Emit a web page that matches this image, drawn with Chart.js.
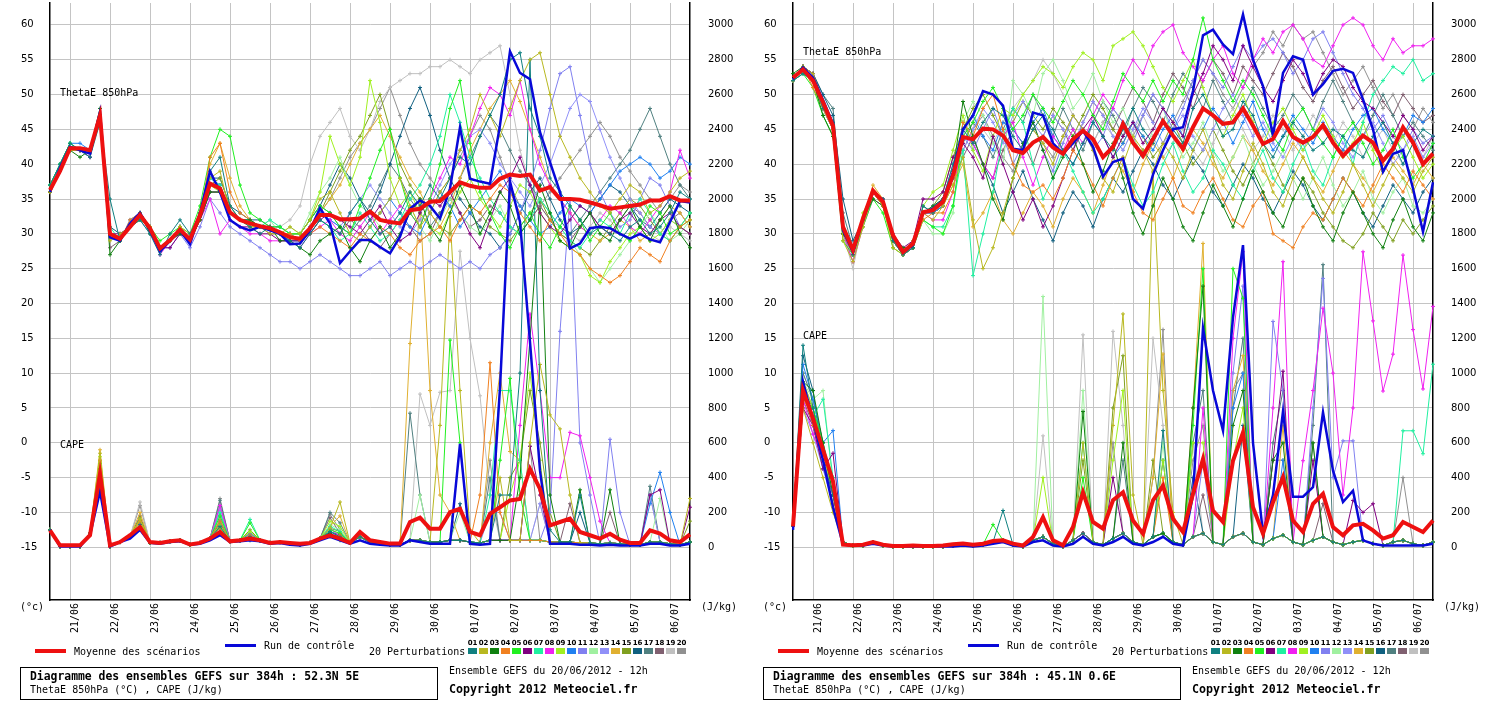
<!DOCTYPE html>
<html>
<head>
<meta charset="utf-8">
<title>Diagramme des ensembles GEFS</title>
<script src="https://cdn.jsdelivr.net/npm/chart.js"></script>
<style>
  body { margin: 0; background: #fff; color: #000; font-family: 'DejaVu Sans Mono', monospace; }
  .panel { position: absolute; top: 0; width: 742px; height: 717px; }
  .panel canvas { position: absolute; left: 0; top: 0; }
  .t { position: absolute; white-space: pre; font-size: 10px; line-height: 10px; }
  .b { font-weight: bold; }
  .bar { position: absolute; }
  .box { position: absolute; left: 20px; top: 667px; width: 416px; height: 31px; border: 1px solid #000; }
  .sq { position: absolute; top: 648px; width: 9px; height: 6px; }
  .num { position: absolute; top: 640px; width: 11px; text-align: center; font-size: 7px; line-height: 7px; font-weight: bold; font-family: 'DejaVu Sans', sans-serif; }
</style>
</head>
<body>
<div class="panel" id="pL" style="left:0"><canvas id="cL" width="742" height="640"></canvas></div>
<div class="panel" id="pR" style="left:743px"><canvas id="cR" width="742" height="640"></canvas></div>
<script>
'use strict'
// forecast steps (hours from 20/06/2012 12h)
const steps = [0,6,12,18,24,30,36,42,48,54,60,66,72,78,84,90,96,102,108,114,120,126,132,138,144,150,156,162,168,174,180,186,192,198,204,210,216,222,228,234,240,246,252,258,264,270,276,282,288,294,300,306,312,318,324,330,336,342,348,354,360,366,372,378,384];
const dayLabels = ['21/06','22/06','23/06','24/06','25/06','26/06','27/06','28/06','29/06','30/06','01/07','02/07','03/07','04/07','05/07','06/07'];
const thetaTicks = [-15,-10,-5,0,5,10,15,20,25,30,35,40,45,50,55,60];
const capeTicks = [0,200,400,600,800,1000,1200,1400,1600,1800,2000,2200,2400,2600,2800,3000];
const memberLabels = ['01','02','03','04','05','06','07','08','09','10','11','12','13','14','15','16','17','18','19','20'];
const memberColors = ['#108080','#b8b820','#108010','#f08020','#20f020','#800080','#20f0a0','#f020f0','#a0f020','#2080f0','#8080f0','#a0f0a0','#9090f8','#e0b030','#80a020','#106080','#508080','#806070','#c0c0c0','#909090'];

// ---- left panel : 52.3N 5E ----
const leftThetaMean = [36.3,39.0,42.3,42.3,42.0,47.0,30.0,29.3,31.0,32.7,30.8,27.9,29.1,30.6,29.2,32.7,37.2,36.5,33.1,32.0,31.5,31.1,30.8,30.2,29.5,29.3,30.8,32.7,32.7,32.1,32.1,32.2,33.2,32.0,31.7,31.5,33.4,33.6,34.6,34.7,36.0,37.4,36.9,36.6,36.6,37.9,38.5,38.3,38.5,36.2,36.7,35.0,35.0,34.9,34.5,34.1,33.6,33.8,34.0,34.2,34.8,34.8,35.4,34.8,34.8];
const leftThetaCtrl = [36,39.5,42.5,42,41.5,47.5,29.5,29,31.5,33,30.5,27.5,29,30.5,28.5,33,39,36,32,31,30.5,31,30.5,30,28.5,28.6,30.5,33.7,31.5,25.8,27.5,29.1,29.1,28.1,27.2,29.6,33.6,34.8,34,32.2,36.5,45.3,37.9,37.5,37.2,45.6,56.2,53.1,52.2,44.6,40.3,36.0,27.9,28.6,30.8,31.0,30.8,30.0,29.3,30.0,29.2,28.8,31.7,34.7,34.5];
const leftThetaMembers = [
  [37,40,43,42,41,46,35,29,31,32,30,27,30,32,30,33,39,41,34,32,31,30,31,30,29,28,30,32,31,30,33,35,32,30,31,33,36,34,37,35,38,41,40,44,47,50,55,56,48,44,38,36,34,32,30,31,30,29,31,32,30,31,33,36,35],
  [36,39,42,42,42,47,29,30,31,33,31,28,29,31,30,33,38,39,33,32,31,31,30,30,31,30,32,35,36,33,30,29,31,33,35,38,34,31,33,36,38,42,45,50,47,44,48,52,55,56,50,44,41,38,36,34,33,35,37,36,33,34,36,38,39],
  [36,39,42,41,42,48,27,29,31,33,30,28,29,30,29,32,36,36,33,32,32,31,31,29,29,28,27,29,30,31,28,26,29,31,28,30,33,35,31,29,33,37,34,30,33,36,34,30,32,37,33,29,28,31,33,30,29,32,34,31,29,32,34,30,28],
  [36,39,42,42,42,47,30,29,32,33,31,28,29,31,29,32,41,43,36,33,32,31,31,30,30,29,30,31,30,29,28,30,29,31,30,28,27,29,30,31,29,32,34,33,35,37,36,33,31,29,32,30,28,27,25,24,23,24,26,28,27,26,29,31,32],
  [37,40,43,42,42,46,30,29,31,32,31,29,30,31,30,34,41,45,44,37,33,32,31,31,30,30,32,34,33,31,30,34,38,42,45,38,33,31,35,40,48,52,43,36,33,30,28,31,33,30,28,31,34,32,29,31,33,30,29,31,34,33,30,31,32],
  [36,39,42,42,41,47,30,30,31,32,31,28,28,30,29,32,36,36,32,31,31,30,30,29,29,29,30,32,33,32,31,30,32,34,31,29,30,33,35,34,36,33,30,28,32,36,38,41,37,33,31,30,32,34,33,31,30,32,33,31,30,32,33,31,30],
  [37,40,43,42,42,47,31,29,31,33,31,28,29,31,29,33,38,37,33,32,32,31,32,31,30,29,30,32,31,29,30,33,31,29,30,32,35,37,40,44,50,46,41,38,35,33,31,30,32,35,33,31,29,28,30,32,31,30,33,35,33,30,29,31,33],
  [36,39,42,42,42,46,30,29,31,33,31,27,29,31,29,32,35,30,32,31,30,30,29,29,29,28,30,31,32,30,29,31,33,30,32,34,33,31,35,38,41,40,44,48,51,50,47,52,45,40,37,35,33,31,30,32,34,33,31,30,32,34,36,42,38],
  [36,39,42,42,42,47,30,29,31,33,31,28,29,31,29,33,37,36,33,32,31,31,31,30,30,30,32,36,44,40,37,41,52,46,38,34,36,33,31,30,33,36,38,35,33,31,34,37,36,33,31,29,28,27,24,23,26,28,30,31,29,30,32,31,30],
  [37,40,43,43,42,47,30,29,32,33,31,28,29,31,29,33,38,37,33,32,32,31,31,30,29,29,31,33,32,31,30,29,31,33,35,33,31,30,33,36,34,31,33,35,37,39,36,34,32,30,31,33,35,34,33,35,37,39,40,41,40,38,39,41,40],
  [36,39,42,42,41,47,30,29,31,32,30,28,28,30,28,31,35,33,31,30,29,28,27,26,26,25,26,27,26,25,24,24,25,26,24,25,26,25,26,27,26,25,26,25,27,28,30,33,37,42,48,53,54,47,40,36,33,31,32,35,38,37,34,31,30],
  [36,39,42,42,42,47,30,29,31,33,31,28,29,31,30,33,36,36,33,32,32,31,32,30,31,30,33,36,38,41,37,34,33,31,30,32,34,31,29,32,35,33,31,30,32,34,31,30,33,35,33,31,29,27,25,23,25,27,29,31,33,31,29,30,32],
  [36,39,42,42,42,47,30,29,31,33,31,28,29,31,29,33,37,37,33,32,32,31,31,30,30,29,31,33,32,31,33,35,37,35,33,31,30,32,34,37,40,42,44,45,43,40,38,36,34,37,40,44,48,50,49,45,41,38,35,33,31,30,32,31,30],
  [36,39,42,42,42,47,30,29,31,33,31,28,29,31,29,33,40,43,38,34,32,31,31,30,30,29,31,33,35,37,40,43,45,47,44,41,38,36,33,31,34,38,42,45,48,50,52,49,45,41,37,35,33,31,30,29,30,32,31,29,30,32,34,33,31],
  [36,39,42,42,42,47,30,29,31,33,31,28,29,31,29,33,37,38,34,32,32,31,31,30,30,29,31,33,36,39,42,44,47,50,45,40,37,35,33,31,30,32,34,33,31,30,29,31,33,35,32,30,29,28,27,29,31,33,35,34,32,30,29,31,33],
  [36,39,42,42,42,47,31,30,31,33,31,28,29,31,29,33,38,38,34,33,32,32,31,31,30,30,32,34,37,40,38,35,33,36,40,44,48,51,47,42,38,35,33,31,30,28,30,33,36,38,35,32,30,31,33,35,37,36,34,32,31,33,35,34,33],
  [36,39,42,42,42,47,30,29,31,33,31,28,29,31,29,33,37,37,33,32,32,31,31,30,30,30,32,34,33,31,30,32,34,37,40,38,35,33,31,33,35,38,41,44,47,45,42,39,37,35,33,31,30,32,34,36,38,40,42,45,48,44,40,37,35],
  [36,39,42,42,42,47,28,29,31,33,31,28,29,31,29,32,36,36,33,32,32,31,30,30,29,29,31,32,31,30,32,31,29,28,30,32,31,29,30,33,35,33,31,32,34,33,31,30,32,34,32,30,29,31,33,31,30,32,34,33,31,30,32,33,31],
  [36,39,42,42,42,47,30,29,31,33,31,28,29,31,29,33,37,37,33,32,32,31,31,31,32,34,40,44,46,48,44,42,45,49,51,52,53,53,54,54,55,54,53,55,56,57,50,42,37,34,32,31,30,29,31,33,32,30,29,31,30,29,31,30,29],
  [36,39,42,42,42,47,30,29,31,33,31,28,29,31,29,33,37,37,33,32,32,31,31,30,30,29,31,33,35,38,41,43,45,48,51,47,43,40,38,36,38,41,44,47,45,41,37,34,32,34,36,38,40,42,44,46,44,41,39,37,35,33,35,37,36]
];
const leftCapeMean = [97,11,11,11,69,421,11,30,69,116,30,25,34,40,16,25,50,88,34,40,50,40,25,30,25,20,25,50,69,50,25,88,40,30,21,21,145,170,107,107,202,221,88,69,192,230,269,278,450,335,126,145,164,88,69,50,78,44,25,25,97,78,40,30,74];
const leftCapeCtrl = [100,5,5,5,70,320,5,30,50,100,25,20,30,35,15,20,40,70,30,35,40,35,20,25,15,10,20,40,60,40,20,40,20,15,10,10,40,30,20,20,20,594,20,15,20,916,2100,1870,1180,440,20,20,20,15,15,10,15,10,10,10,20,20,10,10,20];
const leftCapeMembers = [
  [100,5,5,5,80,400,5,30,60,130,25,25,35,40,15,25,50,120,35,40,60,40,25,30,20,15,25,50,90,60,25,60,30,20,15,15,40,40,30,30,40,40,30,25,40,300,300,1000,2800,900,100,30,30,300,25,20,25,20,15,15,30,30,20,15,30],
  [100,5,5,5,80,540,5,30,60,160,25,25,35,40,15,25,50,110,35,40,50,40,25,30,20,15,25,50,110,260,25,60,30,20,15,15,40,40,30,700,1900,900,100,25,40,400,40,40,600,1050,760,680,300,25,25,20,25,20,15,15,30,30,20,15,280],
  [100,5,5,5,80,450,5,30,60,110,25,25,35,40,15,25,50,90,35,40,40,40,25,30,20,15,25,50,80,40,25,60,30,20,15,15,40,40,30,30,40,40,30,25,40,40,40,400,1200,2000,300,30,30,330,25,20,330,20,15,15,30,30,20,15,30],
  [100,5,5,5,80,500,5,30,60,150,25,25,35,40,15,25,50,150,35,40,70,40,25,30,20,15,25,50,60,70,25,60,30,20,15,15,40,40,30,30,40,40,30,300,1060,200,40,40,40,40,30,30,30,25,25,20,25,20,15,15,30,30,20,15,30],
  [100,5,5,5,80,480,5,30,60,120,25,25,35,40,15,25,50,180,35,40,140,40,25,30,20,15,25,50,100,80,25,60,30,20,15,15,40,40,30,30,1190,600,30,25,40,500,970,300,40,40,30,30,30,25,25,20,25,20,15,15,30,30,20,15,30],
  [100,5,5,5,80,420,5,30,60,100,25,25,35,40,15,25,50,110,35,40,60,40,25,30,20,15,25,50,80,50,25,60,30,20,15,15,40,40,30,30,40,40,30,25,40,40,40,40,580,300,30,30,30,25,25,20,25,20,15,15,300,330,20,15,230],
  [100,5,5,5,80,430,5,30,60,120,25,25,35,40,15,25,50,200,35,40,160,40,25,30,20,15,25,50,120,90,25,60,30,20,15,15,40,40,30,30,40,40,30,25,300,900,900,500,40,40,30,30,30,25,25,20,25,20,15,15,30,30,20,15,30],
  [100,5,5,5,80,470,5,30,60,130,25,25,35,40,15,25,50,240,35,40,60,40,25,30,20,15,25,50,110,60,25,60,30,20,15,15,40,40,30,30,40,40,30,25,40,40,40,700,1340,900,400,400,660,640,400,150,25,20,15,15,30,30,20,15,30],
  [100,5,5,5,80,520,5,30,60,160,25,25,35,40,15,25,50,130,35,40,90,40,25,30,20,15,25,50,150,120,25,60,30,20,15,15,40,40,30,30,40,40,30,25,40,40,300,500,1000,500,30,30,30,25,25,20,25,20,15,15,30,30,20,15,30],
  [100,5,5,5,80,380,5,30,60,100,25,25,35,40,15,25,50,150,35,40,80,40,25,30,20,15,25,50,90,60,25,60,30,20,15,15,40,40,30,30,40,40,30,25,40,40,40,40,40,40,30,30,30,25,25,20,25,20,15,15,250,430,200,15,30],
  [100,5,5,5,80,400,5,30,60,110,25,25,35,40,15,25,50,200,35,40,70,40,25,30,20,15,25,50,80,50,25,60,30,20,15,15,40,40,30,30,40,40,30,25,40,40,40,40,40,40,200,1240,2000,600,300,20,620,200,15,15,30,30,20,15,30],
  [100,5,5,5,80,460,5,30,60,140,25,25,35,40,15,25,50,120,35,40,80,40,25,30,20,15,25,50,130,100,25,60,30,20,15,15,40,300,30,30,40,200,30,25,40,40,40,40,40,40,30,30,30,25,25,20,25,20,15,15,30,280,20,15,30],
  [100,5,5,5,80,440,5,30,60,120,25,25,35,40,15,25,50,220,35,40,70,40,25,30,20,15,25,50,90,60,25,60,30,20,15,15,40,40,30,30,40,40,30,25,200,200,40,40,40,250,30,30,30,25,25,20,25,20,15,15,300,30,20,15,30],
  [100,5,5,5,80,560,5,30,60,200,25,25,35,40,15,25,50,160,35,40,80,40,25,30,20,15,25,50,120,180,25,60,30,20,15,15,1170,1980,900,300,200,40,30,25,600,1000,550,500,40,40,30,30,30,25,25,20,25,20,15,15,30,30,20,15,30],
  [100,5,5,5,80,490,5,30,60,170,25,25,35,40,15,25,50,130,35,40,100,40,25,30,20,15,25,50,110,90,25,60,30,20,15,15,40,40,30,30,40,40,30,25,40,40,400,500,900,600,200,30,30,25,25,20,25,20,15,15,30,30,20,15,150],
  [100,5,5,5,80,360,5,30,60,110,25,25,35,40,15,25,50,140,35,40,60,40,25,30,20,15,25,50,90,70,25,60,30,20,15,15,40,40,30,30,40,250,30,25,40,40,40,40,40,40,30,30,30,200,25,20,25,20,15,15,30,30,20,15,30],
  [100,5,5,5,80,410,5,30,60,140,25,25,35,40,15,25,50,270,35,40,70,40,25,30,20,15,25,50,200,140,25,60,30,20,15,15,770,300,30,30,40,40,30,25,400,40,40,40,40,40,30,30,30,25,25,20,25,20,15,15,350,30,20,15,30],
  [100,5,5,5,80,450,5,30,60,180,25,25,35,40,15,25,50,240,35,40,80,40,25,30,20,15,25,50,170,80,25,60,30,20,15,15,40,40,30,30,40,40,30,25,40,40,40,40,40,40,30,30,250,25,25,20,200,20,15,15,30,30,20,15,30],
  [100,5,5,5,80,480,5,30,60,260,25,25,35,40,15,25,50,170,35,40,60,40,25,30,20,15,25,50,110,70,25,60,30,20,15,15,40,880,700,890,900,1700,1200,870,300,40,40,40,40,250,30,30,30,25,25,20,25,20,15,15,30,30,20,15,30],
  [100,5,5,5,80,500,5,30,60,240,25,25,35,40,15,25,50,280,35,40,70,40,25,30,20,15,25,50,190,100,25,60,30,20,15,15,40,40,30,30,40,40,30,25,500,40,40,40,580,40,30,30,30,25,25,20,25,20,15,15,300,30,20,15,30]
];

// ---- right panel : 45.1N 0.6E ----
const rightThetaMean = [52.4,53.6,52.0,48.9,45.5,31.0,27.7,32.2,36.2,34.6,29.8,27.4,28.6,33.1,33.4,34.6,38.4,43.9,43.6,45.1,45.0,44.1,42.0,41.6,43.1,43.9,42.4,41.5,43.6,44.8,43.6,41.0,42.5,45.8,43.1,41.2,43.6,46.2,44.1,42.2,45.3,48.0,47.0,45.8,46.0,48.0,45.5,42.9,43.6,46.2,43.9,43.1,43.9,45.6,43.1,41.2,42.7,44.1,43.1,40.5,42.2,45.3,43.1,40.0,41.5];
const rightThetaCtrl = [52.2,53.9,52.4,49.2,45.8,30.5,27.4,32.0,36.0,34.8,29.6,27.3,28.4,33.0,33.6,34.8,38.8,45,47,50.5,50,48.4,42.2,42,47.4,47,43,41.5,43,44.8,42.5,38.2,40.3,40.8,35,33.6,38.5,42,45,45.3,50.5,58.5,59.3,57.2,55.8,61.5,55,51.2,44.1,53.1,55.5,55,50,51.5,53.4,53.7,53.1,49.3,45,38.9,41.5,42,36.5,30.3,37.4];
const rightThetaMembers = [
  [52,53,52,48,46,31,27,32,36,35,29,27,28,34,33,35,40,45,43,46,48,47,44,42,45,47,45,42,40,43,46,44,42,45,48,45,43,46,45,43,48,50,47,44,45,49,47,43,41,44,46,44,42,43,45,44,42,41,44,46,43,40,43,45,44],
  [52,54,53,49,45,29,26,31,36,34,28,27,29,33,32,34,37,41,32,25,28,33,38,42,45,43,40,44,47,45,42,38,36,40,44,42,39,43,41,38,42,45,41,37,35,39,43,40,36,34,38,41,38,35,33,36,40,37,34,37,40,38,36,39,41],
  [53,54,52,47,44,30,28,32,35,34,29,28,28,33,34,35,39,49,44,40,35,32,38,43,46,42,38,41,44,40,36,39,43,38,33,30,34,38,35,31,29,33,37,34,31,35,39,36,33,31,35,38,34,31,29,33,36,33,30,28,32,35,31,29,33],
  [52,54,51,48,45,30,27,32,36,34,29,27,28,32,33,33,36,46,44,48,50,45,40,37,36,37,35,38,42,40,37,34,38,41,36,33,32,35,38,34,33,36,38,35,32,31,34,36,30,29,28,31,33,32,35,38,36,34,37,40,38,36,39,37,35],
  [52,53,51,47,44,29,27,31,35,33,28,27,28,32,31,30,34,44,46,49,51,48,45,47,50,48,46,49,52,50,47,45,49,53,51,49,52,49,52,50,55,61,55,52,49,52,50,47,44,42,46,48,45,43,41,44,46,43,40,42,45,41,38,40,43],
  [52,54,53,49,46,31,28,32,36,35,30,28,29,35,35,36,41,43,41,38,44,40,36,32,35,31,34,38,42,45,47,44,41,44,46,43,45,48,46,44,50,53,57,55,52,57,54,51,49,52,55,53,50,53,55,54,51,49,48,46,44,47,45,42,44],
  [52,54,52,48,45,30,27,32,36,34,29,27,28,32,31,31,34,42,24,30,36,44,48,46,40,35,38,42,39,36,33,35,38,41,37,34,36,40,43,39,36,38,42,40,37,35,39,42,38,36,40,43,39,37,41,44,40,46,50,52,54,53,55,52,53],
  [52,54,52,48,45,30,26,31,35,34,29,27,28,33,32,32,36,44,43,40,38,44,46,41,37,41,44,42,45,43,47,50,48,52,55,53,57,59,60,56,54,52,55,57,53,51,55,58,56,59,60,58,55,54,57,60,61,60,57,55,58,56,57,57,58],
  [52,54,52,48,45,30,27,33,36,34,29,27,28,34,36,37,42,47,42,39,44,48,47,50,52,54,53,51,54,56,55,52,57,58,59,57,54,51,49,52,55,51,47,44,47,50,46,43,46,48,45,42,44,47,44,41,43,46,42,39,42,44,41,38,40],
  [52,53,52,48,45,30,27,32,36,34,29,27,28,33,33,34,38,45,47,44,42,46,45,43,46,48,44,42,40,43,46,44,41,43,46,44,42,45,47,44,42,45,48,46,43,46,49,45,42,44,47,45,43,46,44,42,45,47,48,45,43,44,47,46,48],
  [52,54,52,48,45,30,27,32,36,34,29,27,28,33,34,35,39,44,42,45,48,44,40,43,46,42,39,43,47,45,42,44,48,46,43,47,50,48,45,48,52,55,53,51,54,57,55,57,58,56,53,55,58,59,56,53,50,48,45,47,44,42,45,43,44],
  [52,54,52,48,45,30,27,32,36,34,29,27,28,32,30,30,33,46,49,47,43,40,52,50,47,53,55,52,48,50,53,49,46,48,44,41,45,48,44,41,43,46,42,39,41,44,40,37,39,42,38,35,38,41,37,34,36,39,35,33,36,38,34,33,35],
  [52,54,52,48,45,30,27,32,36,34,29,27,28,33,33,35,40,42,45,48,46,43,47,49,46,44,47,45,43,46,49,47,44,42,45,48,46,43,45,47,44,42,45,48,50,47,44,46,43,41,44,42,45,48,46,43,41,44,46,43,40,42,44,41,43],
  [52,54,52,48,45,30,27,32,37,35,29,27,28,33,33,34,37,40,31,33,36,32,30,33,36,34,31,35,38,36,33,37,41,39,36,40,43,41,38,42,45,43,40,38,41,44,42,39,37,40,43,41,38,36,39,42,40,38,36,39,41,39,37,40,38],
  [52,54,52,48,45,30,27,32,36,34,29,27,28,33,34,36,41,45,48,50,47,44,46,49,47,45,48,46,44,47,50,48,45,43,46,44,41,43,46,43,40,42,45,42,39,37,40,43,40,37,35,38,36,33,31,29,28,30,33,31,29,32,30,32,34],
  [52,54,53,50,47,35,29,32,36,34,29,27,28,34,33,34,38,46,43,40,37,33,36,39,35,32,29,33,36,34,31,35,38,36,39,42,40,37,35,38,41,39,36,34,37,40,38,35,33,36,39,37,34,32,35,38,36,33,31,34,37,35,33,36,38],
  [52,54,53,50,48,33,28,32,36,34,29,27,28,33,33,34,39,43,46,44,41,45,48,46,50,47,44,48,45,42,46,49,47,44,48,51,49,46,50,53,51,48,52,49,46,48,51,48,45,47,50,48,45,49,52,49,46,44,47,50,47,44,46,44,42],
  [52,54,52,48,45,30,27,32,36,34,29,27,28,33,33,34,38,41,44,40,38,42,45,43,40,44,47,45,42,46,49,47,45,48,51,49,46,50,53,51,48,52,55,53,50,54,52,50,53,56,54,51,49,52,54,51,48,50,52,49,47,50,48,46,47],
  [52,54,52,48,45,30,25,32,36,34,29,27,28,33,33,35,40,44,47,45,43,46,48,50,52,55,53,50,47,45,43,46,44,42,45,47,44,41,43,45,42,40,43,46,48,45,42,44,47,45,42,44,47,45,43,46,44,41,43,45,42,40,43,41,44],
  [52,54,52,48,45,30,26,32,36,34,29,27,28,33,33,34,39,42,45,47,44,41,39,42,45,43,41,44,47,45,43,46,48,46,44,47,50,48,46,49,52,55,53,50,48,51,54,56,59,57,60,58,59,56,53,50,52,54,51,48,50,47,45,48,46]
];
const rightCapeMean = [120,900,740,560,380,15,11,15,30,15,8,8,10,8,8,10,17,21,15,20,36,40,21,10,59,173,40,11,116,316,145,107,270,316,154,78,269,354,164,88,307,507,211,145,497,659,230,78,259,402,154,88,250,307,116,69,126,135,97,50,69,145,116,88,154];
const rightCapeCtrl = [100,950,730,500,230,15,10,10,20,10,5,5,5,5,5,5,5,10,5,10,20,30,10,5,30,40,10,5,20,60,20,10,30,60,20,10,30,60,20,10,300,1260,900,670,1320,1735,600,80,300,780,290,290,345,775,440,260,325,40,20,10,10,10,10,10,20];
const rightCapeMembers = [
  [120,1160,800,500,300,30,10,10,30,10,5,5,5,5,5,5,10,15,10,15,30,211,15,5,40,60,20,5,40,80,30,15,50,80,30,15,60,670,30,15,60,80,30,15,60,80,30,15,50,70,30,15,40,60,30,15,30,40,20,10,30,40,20,10,30],
  [120,800,600,400,200,30,10,10,30,10,5,5,5,5,5,5,10,15,10,15,30,40,15,5,40,60,20,5,40,600,30,15,700,1340,300,15,2150,900,200,15,60,80,30,15,60,80,30,15,50,70,30,15,40,60,30,15,30,40,20,10,30,40,20,10,30],
  [120,950,900,600,300,30,10,10,30,10,5,5,5,5,5,5,10,15,10,15,30,40,15,5,40,60,20,5,40,780,30,15,50,600,30,15,60,80,30,15,800,1500,30,15,700,900,30,15,500,600,30,15,600,60,30,15,30,40,20,10,30,40,20,10,30],
  [120,900,700,500,250,30,10,10,30,10,5,5,5,5,5,5,10,15,10,15,30,40,15,5,40,60,20,5,40,80,30,15,50,80,30,15,60,400,30,15,60,80,30,15,60,80,30,15,50,70,30,15,40,60,30,15,30,40,20,10,30,40,20,10,30],
  [120,850,800,600,350,30,10,10,30,10,5,5,5,5,5,5,10,15,10,15,130,40,15,5,40,60,20,5,40,400,30,15,50,80,30,15,60,80,30,15,700,1600,30,15,1600,1430,30,15,50,70,30,15,40,60,30,15,30,40,20,10,30,40,20,10,30],
  [120,800,700,450,540,30,10,10,30,10,5,5,5,5,5,5,10,15,10,15,30,40,15,5,40,60,20,5,40,80,30,15,400,80,30,15,60,80,30,15,60,80,30,15,60,80,30,15,500,1011,30,15,500,60,30,15,269,200,250,10,30,40,20,10,30],
  [120,900,750,850,400,30,10,10,30,10,5,5,5,5,5,5,10,15,10,15,30,40,15,5,40,60,20,5,40,600,30,15,50,80,30,15,60,80,30,15,60,80,30,15,60,80,30,15,50,70,30,15,40,60,30,15,30,40,20,10,30,669,669,537,1051],
  [120,850,650,500,300,30,10,10,30,10,5,5,5,5,5,5,10,15,10,15,30,40,15,5,40,60,20,5,40,80,30,15,50,80,30,15,60,80,30,15,60,800,30,15,1200,1697,30,15,800,1640,30,497,900,1373,1000,300,800,1697,1300,897,1109,1678,1250,909,1383],
  [120,950,800,550,300,30,10,10,30,10,5,5,5,5,5,5,10,15,10,15,30,40,15,5,40,400,20,5,40,80,30,15,500,900,30,15,60,500,30,15,600,600,30,15,500,800,30,15,50,70,30,15,40,60,30,15,30,40,20,10,30,40,20,10,30],
  [120,1050,850,600,670,30,10,10,30,10,5,5,5,5,5,5,10,15,10,15,30,40,15,5,40,60,20,5,40,80,30,15,50,80,30,15,60,80,30,15,60,80,30,15,800,1000,30,15,50,500,30,15,40,60,30,15,30,40,20,10,30,40,20,10,30],
  [120,900,700,500,300,30,10,10,30,10,5,5,5,5,5,5,10,15,10,15,30,40,15,5,40,60,20,5,40,80,30,15,50,80,30,15,60,80,30,15,60,500,30,15,1000,1500,30,15,1297,900,30,15,800,1544,400,611,611,40,20,10,30,40,20,10,30],
  [120,950,850,900,350,30,10,10,30,10,5,5,5,5,5,5,10,15,10,15,30,40,15,5,40,1440,20,5,40,900,30,15,50,80,30,15,60,600,30,15,60,80,30,15,60,80,30,15,50,70,30,15,40,60,30,15,30,40,20,10,30,40,20,10,30],
  [120,800,650,450,250,30,10,10,30,10,5,5,5,5,5,5,10,15,10,15,30,40,15,5,40,60,20,5,40,80,30,15,50,80,30,15,60,80,30,15,60,80,30,15,60,80,30,15,50,70,30,15,40,60,30,15,30,40,20,10,30,40,20,10,30],
  [120,850,750,500,300,30,10,10,30,10,5,5,5,5,5,5,10,15,10,15,30,40,15,5,40,60,20,5,40,80,30,15,50,80,30,15,400,1110,30,15,800,1745,30,15,900,1100,30,15,50,700,30,15,40,60,30,15,30,40,20,10,30,40,20,10,30],
  [120,900,800,550,300,30,10,10,30,10,5,5,5,5,5,5,10,15,10,15,30,40,15,5,40,60,20,5,40,500,30,15,800,1100,30,15,500,80,30,15,60,80,30,15,60,80,30,15,50,70,30,15,40,60,30,15,30,40,20,10,30,40,20,10,30],
  [120,1100,900,500,400,30,10,10,30,10,5,5,5,5,5,5,10,15,10,15,30,40,15,5,40,60,20,5,40,80,30,15,50,80,30,15,60,500,30,15,400,80,30,15,60,700,30,15,50,70,30,15,40,60,30,15,30,40,20,10,30,40,20,10,30],
  [120,1000,850,600,350,30,10,10,30,10,5,5,5,5,5,5,10,15,10,15,30,40,15,5,40,60,20,5,40,80,30,15,50,500,30,15,60,80,30,15,600,900,30,15,800,1200,30,15,600,900,30,15,700,1623,30,15,30,40,20,10,30,40,20,10,30],
  [120,850,700,450,300,30,10,10,30,10,5,5,5,5,5,5,10,15,10,15,30,40,15,5,40,60,20,5,40,80,30,15,50,80,30,15,60,80,30,15,60,300,30,15,60,80,30,15,50,70,30,15,40,250,30,15,30,40,20,10,30,40,20,10,30],
  [120,1000,850,600,400,30,10,10,30,10,5,5,5,5,5,5,10,15,10,15,30,40,15,5,40,640,20,5,40,1220,30,15,1240,700,30,15,1200,700,30,15,600,80,30,15,60,80,30,15,50,70,30,15,40,60,30,15,30,40,20,10,30,40,20,10,30],
  [120,950,800,550,300,30,10,10,30,10,5,5,5,5,5,5,10,15,10,15,30,40,15,5,40,60,20,5,40,80,30,15,600,80,30,15,400,1250,30,15,500,700,30,15,900,1000,30,15,500,500,30,15,600,60,30,15,30,40,20,10,30,400,20,10,30]
];

// both axes share the same pixels: CAPE = (ThetaE + 15) * 40
const THETA_MIN = -22.57;
const THETA_MAX = 63.14;
const MEAN_COLOR = '#ee1010';
const CTRL_COLOR = '#0808d8';
const GRID_COLOR = '#c4c4c4';

Chart.defaults.color = '#000';
Chart.defaults.font.family = "'DejaVu Sans', sans-serif";
Chart.defaults.font.size = 10;

// keep the plot area flush with the canvas edges
function noPad(s) {
  s.paddingTop = 0;
  s.paddingBottom = 0;
  s.paddingLeft = 0;
  s.paddingRight = 0;
}

function drawPanel(canvasId, thetaMean, thetaCtrl, thetaMembers, capeMean, capeCtrl, capeMembers) {
  const datasets = [];
  const line = (data, axis, color, width, order, points) => ({
    data: data, yAxisID: axis, borderColor: color, backgroundColor: color,
    borderWidth: width, order: order, tension: 0, fill: false,
    pointRadius: points ? 2 : 0, pointStyle: 'cross', pointBorderWidth: 1, pointHoverRadius: 0
  });
  datasets.push(line(thetaMean, 'y', MEAN_COLOR, 4, 0, false));
  datasets.push(line(capeMean, 'y2', MEAN_COLOR, 4, 0, false));
  datasets.push(line(thetaCtrl, 'y', CTRL_COLOR, 2.5, 1, false));
  datasets.push(line(capeCtrl, 'y2', CTRL_COLOR, 2.5, 1, false));
  thetaMembers.forEach((m, k) => datasets.push(line(m, 'y', memberColors[k], 1, 2, true)));
  capeMembers.forEach((m, k) => datasets.push(line(m, 'y2', memberColors[k], 1, 2, true)));

  return new Chart(document.getElementById(canvasId), {
    type: 'line',
    data: { labels: steps, datasets: datasets },
    options: {
      responsive: false,
      animation: false,
      events: [],
      layout: { padding: { left: 21, right: 0, top: 0, bottom: 0 } },
      plugins: { legend: { display: false }, tooltip: { enabled: false } },
      scales: {
        x: {
          type: 'category',
          offset: false,
          grid: { color: GRID_COLOR, drawTicks: false },
          border: { color: '#000', width: 1.5 },
          afterBuildTicks: s => { s.ticks = s.ticks.filter(t => (steps[t.value] - 12) % 24 === 0); },
          afterFit: s => { s.height = 40; noPad(s); },
          ticks: {
            autoSkip: false, minRotation: 90, maxRotation: 90, padding: 3, labelOffset: 5,
            font: { family: "'DejaVu Sans Mono', monospace", size: 10 },
            callback: v => dayLabels[(steps[v] - 12) / 24]
          }
        },
        y: {
          position: 'left',
          min: THETA_MIN, max: THETA_MAX,
          grid: { color: GRID_COLOR, drawTicks: false },
          border: { color: '#000', width: 1.5 },
          afterBuildTicks: s => { s.ticks = thetaTicks.map(v => ({ value: v })); },
          afterFit: s => { s.width = 29; noPad(s); },
          ticks: { crossAlign: 'far', padding: 0, callback: v => String(v) }
        },
        y2: {
          position: 'right',
          min: (THETA_MIN + 15) * 40, max: (THETA_MAX + 15) * 40,
          grid: { display: false, drawTicks: false },
          border: { display: true, color: '#000', width: 1.5 },
          afterBuildTicks: s => { s.ticks = capeTicks.map(v => ({ value: v })); },
          afterFit: s => { s.width = 52; noPad(s); },
          ticks: { padding: 18, callback: v => String(v) }
        }
      }
    }
  });
}

// text around each panel
function addText(panel, txt, left, top, cls) {
  const d = document.createElement('div');
  d.className = 't' + (cls ? ' ' + cls : '');
  d.style.left = left + 'px';
  d.style.top = top + 'px';
  d.textContent = txt;
  panel.appendChild(d);
  return d;
}

function decorate(panelId, title, thetaLabelTop, capeLabelTop) {
  const p = document.getElementById(panelId);
  addText(p, '(°c)', 20, 602);
  addText(p, '(J/kg)', 701, 602);
  addText(p, 'ThetaE 850hPa', 60, thetaLabelTop);
  addText(p, 'CAPE', 60, capeLabelTop);

  const red = document.createElement('div');
  red.className = 'bar';
  red.style.cssText = 'left:35px;top:649px;width:31px;height:4px;background:' + MEAN_COLOR;
  p.appendChild(red);
  addText(p, 'Moyenne des scénarios', 74, 647);
  const blue = document.createElement('div');
  blue.className = 'bar';
  blue.style.cssText = 'left:225px;top:644px;width:31px;height:3px;background:' + CTRL_COLOR;
  p.appendChild(blue);
  addText(p, 'Run de contrôle', 264, 641);
  addText(p, '20 Perturbations', 369, 647);
  memberColors.forEach((c, k) => {
    const sq = document.createElement('div');
    sq.className = 'sq';
    sq.style.left = (468 + 11 * k) + 'px';
    sq.style.background = c;
    p.appendChild(sq);
    const n = document.createElement('div');
    n.className = 'num';
    n.style.left = (467 + 11 * k) + 'px';
    n.textContent = memberLabels[k];
    p.appendChild(n);
  });

  const box = document.createElement('div');
  box.className = 'box';
  p.appendChild(box);
  const t1 = addText(p, title, 30, 671, 'b');
  t1.style.fontSize = '11.4px';
  addText(p, 'ThetaE 850hPa (°C) , CAPE (J/kg)', 30, 685);
  addText(p, 'Ensemble GEFS du 20/06/2012 - 12h', 449, 666);
  const cp = addText(p, 'Copyright 2012 Meteociel.fr', 449, 684, 'b');
  cp.style.fontSize = '11.6px';
}

drawPanel('cL', leftThetaMean, leftThetaCtrl, leftThetaMembers, leftCapeMean, leftCapeCtrl, leftCapeMembers);
drawPanel('cR', rightThetaMean, rightThetaCtrl, rightThetaMembers, rightCapeMean, rightCapeCtrl, rightCapeMembers);
decorate('pL', 'Diagramme des ensembles GEFS sur 384h : 52.3N 5E', 88, 440);
decorate('pR', 'Diagramme des ensembles GEFS sur 384h : 45.1N 0.6E', 47, 331);
</script>
</body>
</html>
